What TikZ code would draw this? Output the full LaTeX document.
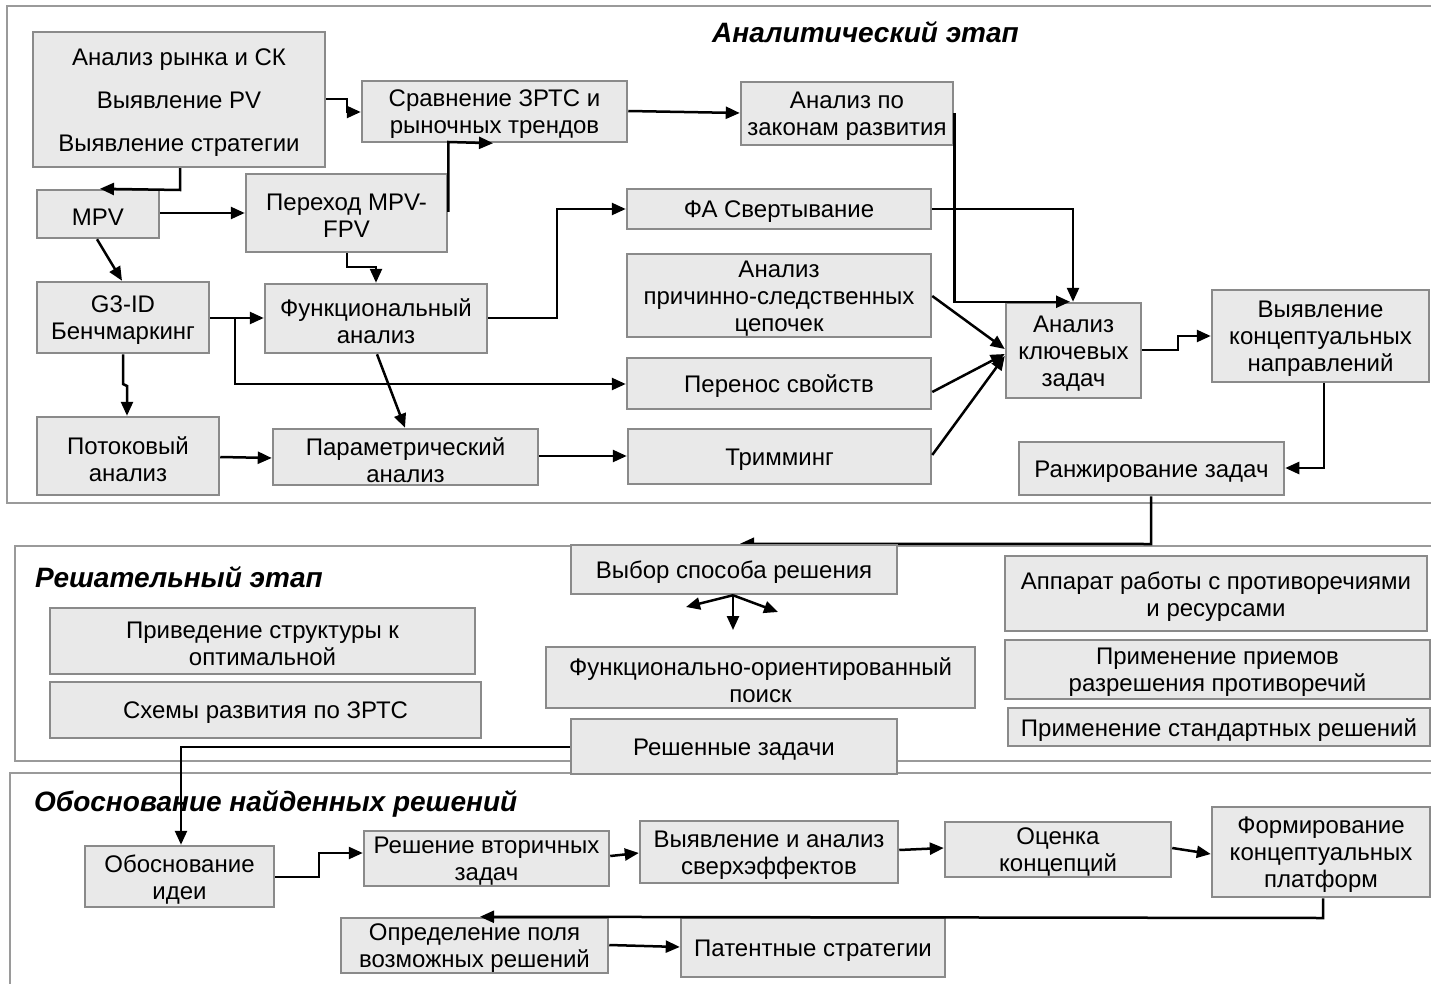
\documentclass[tikz,border=0pt]{standalone}
\usepackage{fontspec}
\setmainfont{Liberation Sans}
\usetikzlibrary{arrows.meta}
\pgfdeclarelayer{back}\pgfdeclarelayer{mid}\pgfsetlayers{back,mid,main}
\definecolor{boxfill}{HTML}{E9E9E9}
\definecolor{boxline}{HTML}{8A8A8A}
\definecolor{frameline}{HTML}{9A9A9A}
\tikzset{
 box/.style={draw=boxline, fill=boxfill, line width=2.5pt, inner sep=0pt},
 boxtext/.style={align=center, inner sep=0pt, font=\fontsize{24}{27}\selectfont},
 frame/.style={draw=frameline, line width=2pt},
 conn/.style={draw=black, line width=2.5pt, -{Triangle[length=14pt,width=12pt]}},
 ttl/.style={font=\fontsize{28}{32}\selectfont\bfseries\itshape, inner sep=0pt, anchor=base west},
}
\newcommand\mkbox[6]{\node[box,minimum width={#4-#2},minimum height={#5-#3}] (#1) at ({(#2+#4)/2},{(#3+#5)/2}) {};
\node[boxtext] (#1-t) at ({(#2+#4)/2},{(#3+#5)/2+3}) {#6};}
\begin{document}
\begin{tikzpicture}[x=1pt,y=-1pt]
\useasboundingbox (0,0) rectangle (1431,984);
\begin{pgfonlayer}{back}
\fill[white] (0,0) rectangle (1431,984);
\draw[frame] (7,6) rectangle (1445,503);
\draw[frame] (15,546) rectangle (1445,761);
\draw[frame] (10,773) rectangle (1445,1000);
\end{pgfonlayer}
% titles
\node[ttl] (t1) at (712,43) {Аналитический этап};
\node[ttl] (t2) at (35,587) {Решательный этап};
\node[ttl] (t3) at (34,811) {Обоснование найденных решений};
% analytical stage
\mkbox{A1}{33}{32}{325}{167}{Анализ рынка и СК\\[16pt]Выявление PV\\[16pt]Выявление стратегии}
\mkbox{SR}{362}{81}{627}{142}{Сравнение ЗРТС и\\рыночных трендов}
\mkbox{AZ}{741}{82}{953}{145}{Анализ по\\законам развития}
\mkbox{MPV}{37}{190}{159}{238}{MPV}
\mkbox{PER}{246}{174}{447}{252}{Переход MPV-\\FPV}
\mkbox{FAS}{627}{189}{931}{229}{ФА Свертывание}
\mkbox{APS}{627}{254}{931}{337}{Анализ\\причинно-следственных\\цепочек}
\mkbox{G3}{37}{282}{209}{353}{G3-ID\\Бенчмаркинг}
\mkbox{FUN}{265}{284}{487}{353}{Функциональный\\анализ}
\mkbox{PS}{627}{358}{931}{409}{Перенос свойств}
\mkbox{AKZ}{1006}{303}{1141}{398}{Анализ\\ключевых\\задач}
\mkbox{VKN}{1212}{290}{1429}{382}{Выявление\\концептуальных\\направлений}
\mkbox{RZ}{1019}{442}{1284}{495}{Ранжирование задач}
\mkbox{POT}{37}{417}{219}{495}{Потоковый\\анализ}
\mkbox{PAR}{273}{429}{538}{485}{Параметрический\\анализ}
\mkbox{TRM}{628}{429}{931}{484}{Тримминг}
% solving stage
\mkbox{VYB}{571}{545}{897}{594}{Выбор способа решения}
\mkbox{PRI}{50}{608}{475}{674}{Приведение структуры к\\оптимальной}
\mkbox{SHE}{50}{682}{481}{738}{Схемы развития по ЗРТС}
\mkbox{FOP}{546}{647}{975}{708}{Функционально-ориентированный\\поиск}
\mkbox{RES}{571}{719}{897}{774}{Решенные задачи}
\mkbox{APP}{1005}{556}{1427}{631}{Аппарат работы с противоречиями\\и ресурсами}
\mkbox{PPR}{1005}{640}{1430}{699}{Применение приемов\\разрешения противоречий}
\mkbox{PST}{1008}{708}{1430}{746}{Применение стандартных решений}
% justification stage
\mkbox{OBI}{85}{846}{274}{907}{Обоснование\\идеи}
\mkbox{RVZ}{364}{831}{609}{886}{Решение вторичных\\задач}
\mkbox{VAS}{640}{821}{898}{883}{Выявление и анализ\\сверхэффектов}
\mkbox{OK}{945}{822}{1171}{877}{Оценка\\концепций}
\mkbox{FKP}{1212}{807}{1430}{897}{Формирование\\концептуальных\\платформ}
\mkbox{OPR}{341}{918}{608}{973}{Определение поля\\возможных решений}
\mkbox{PAT}{681}{918}{945}{977}{Патентные стратегии}
% connectors, analytical
\draw[conn] (A1.east |- 0,99) -- (347,99) -- (347,112) -- (SR.west |- 0,112);
\draw[conn] (A1.south -| 180,0) -- (180,190) -- (MPV.north -| 100,0);
\draw[conn] (MPV.east |- 0,213) -- (PER.west |- 0,213);
\draw[conn] (PER.east |- 0,212) -- (PER.east |- 0,142) -- (SR.south -| 493,0);
\draw[conn] (SR.east |- 0,111) -- (AZ.west |- 0,113);
\draw[conn] (AZ.east) -- (AZ.east |- AKZ.north) -- (AKZ.north -| 1070,0);
\draw[conn] (FAS.east) -| (AKZ.north -| 1073,0);
\draw[conn] (APS.east |- 0,296) -- (AKZ.west |- 0,349);
\draw[conn] (PS.east |- 0,392) -- (AKZ.west |- 0,354);
\draw[conn] (TRM.east |- 0,455) -- (AKZ.west |- 0,356);
\draw[conn] (AKZ.east |- 0,350) -- (1178,350) -- (1178,336) -- (VKN.west |- 0,336);
\draw[conn] (VKN.south -| 1324,0) -- (1324,468) -- (RZ.east |- 0,468);
\begin{pgfonlayer}{mid}
\draw[conn] (RZ.south -| 1151,0) -- (1151,544) -- (VYB.north -| 740,0);
\end{pgfonlayer}
\draw[conn] (MPV.south -| 97,0) -- (G3.north -| 122,0);
\draw[conn] (PER.south -| 347,0) -- (347,267) -- (376,267) -- (FUN.north -| 376,0);
\draw[conn] (G3.east |- 0,318) -- (FUN.west |- 0,318);
\draw[conn] (G3.east |- 0,318) -- (235,318) -- (235,384) -- (PS.west |- 0,384);
\draw[conn] (G3.south -| 123,0) -- (123,384) -- (127,386) -- (POT.north -| 127,0);
\draw[conn] (FUN.south -| 377,0) -- (PAR.north -| 405,0);
\draw[conn] (POT.east |- 0,457) -- (PAR.west |- 0,458);
\draw[conn] (PAR.east |- 0,456) -- (TRM.west |- 0,456);
\draw[conn] (FUN.east |- 0,318) -- (557,318) -- (557,209) -- (FAS.west);
% solving stage arrows
\coordinate (vl) at (686,607);
\coordinate (vd) at (733,630);
\coordinate (vr) at (778,612);
\draw[conn] (VYB.south -| 733,0) -- (vl);
\draw[conn] (VYB.south -| 733,0) -- (vd);
\draw[conn] (VYB.south -| 733,0) -- (vr);
\draw[conn] (RES.west |- 0,747) -- (181,747) -- (OBI.north -| 181,0);
% justification stage
\draw[conn] (OBI.east |- 0,877) -- (319,877) -- (319,853) -- (RVZ.west |- 0,853);
\draw[conn] (RVZ.east |- 0,856) -- (VAS.west |- 0,853);
\draw[conn] (VAS.east |- 0,850) -- (OK.west |- 0,848);
\draw[conn] (OK.east |- 0,848) -- (FKP.west |- 0,854);
\draw[conn] (FKP.south -| 1323,0) -- (1323,918) -- (OPR.north -| 480,0);
\draw[conn] (OPR.east |- 0,945) -- (PAT.west |- 0,947);
\end{tikzpicture}
\end{document}
